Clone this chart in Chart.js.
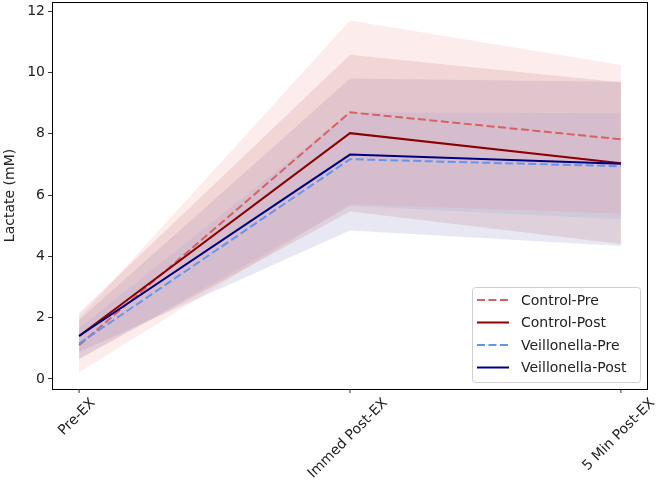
<!DOCTYPE html>
<html>
<head>
<meta charset="utf-8">
<script src="https://cdn.jsdelivr.net/npm/chart.js@4/dist/chart.umd.min.js"></script>
<style>
    body { margin: 0; background: #fff; }
    canvas { display: block; }
</style>
</head>
<body>
<canvas id="lactateChart" width="660" height="490"></canvas>
<script>
// Time points on the x axis
const timepoints = ['Pre-EX', 'Immed Post-EX', '5 Min Post-EX'];

// Group means (mM) and their spread (+/- SD)
const controlPre = [1.10, 8.70, 7.82];
const controlPreSd = [0.88, 3.00, 2.42];
const controlPost = [1.40, 8.02, 7.04];
const controlPostSd = [0.75, 2.56, 2.64];
const veillonellaPre = [1.15, 7.17, 6.94];
const veillonellaPreSd = [0.50, 1.53, 1.73];
const veillonellaPost = [1.40, 7.32, 7.02];
const veillonellaPostSd = [0.52, 2.48, 2.68];

const yTicks = [0, 2, 4, 6, 8, 10, 12];

const FONT = '"DejaVu Sans", sans-serif';

const series = [
    { label: 'Control-Pre', mean: controlPre, sd: controlPreSd, color: '#d9605f', band: 'rgba(240, 128, 128, 0.15)', dashed: true },
    { label: 'Control-Post', mean: controlPost, sd: controlPostSd, color: '#8b0000', band: 'rgba(139, 0, 0, 0.10)', dashed: false },
    { label: 'Veillonella-Pre', mean: veillonellaPre, sd: veillonellaPreSd, color: '#6495ed', band: 'rgba(100, 149, 237, 0.12)', dashed: true },
    { label: 'Veillonella-Post', mean: veillonellaPost, sd: veillonellaPostSd, color: '#000080', band: 'rgba(0, 0, 128, 0.09)', dashed: false }
];

const toPoints = arr => arr.map((v, i) => ({ x: i, y: v }));

const datasets = [];
series.forEach((s, idx) => {
    // mean line, lower order = drawn on top
    datasets.push({
        label: s.label,
        data: toPoints(s.mean),
        borderColor: s.color,
        borderWidth: 2,
        borderDash: s.dashed ? [8, 3.5] : [],
        pointRadius: 0,
        fill: false,
        tension: 0,
        order: 4 - idx
    });
});
series.forEach((s, idx) => {
    datasets.push({
        label: s.label + ' upper',
        data: toPoints(s.mean.map((m, i) => m + s.sd[i])),
        borderWidth: 0,
        pointRadius: 0,
        fill: false,
        order: 20 + idx
    });
    datasets.push({
        label: s.label + ' lower',
        data: toPoints(s.mean.map((m, i) => m - s.sd[i])),
        borderWidth: 0,
        pointRadius: 0,
        backgroundColor: s.band,
        fill: '-1',
        order: 20 + idx
    });
});

// frame, rotated x labels, y title and legend box
const decorations = {
    id: 'decorations',
    afterDraw(chart) {
        const ctx = chart.ctx;
        const area = chart.chartArea;
        const xScale = chart.scales.x;

        ctx.save();
        ctx.strokeStyle = '#000';
        ctx.lineWidth = 1;
        ctx.strokeRect(area.left + 0.5, area.top + 0.5, area.right - area.left - 1, area.bottom - area.top);

        // x tick marks + labels centred under tick (matplotlib style)
        ctx.font = '14px ' + FONT;
        ctx.fillStyle = '#222';
        ctx.textAlign = 'center';
        ctx.textBaseline = 'middle';
        timepoints.forEach((lbl, i) => {
            const x = xScale.getPixelForValue(i);
            ctx.beginPath();
            ctx.moveTo(x, area.bottom);
            ctx.lineTo(x, area.bottom + 4);
            ctx.strokeStyle = '#333';
            ctx.stroke();
            const w = ctx.measureText(lbl).width;
            const boxH = (w + 14) * Math.SQRT1_2;
            ctx.save();
            ctx.translate(x - 2, area.bottom + 7 + boxH / 2);
            ctx.rotate(-Math.PI / 4);
            ctx.fillText(lbl, 0, 0);
            ctx.restore();
        });

        // y axis title
        ctx.save();
        ctx.translate(10, (area.top + area.bottom) / 2);
        ctx.rotate(-Math.PI / 2);
        ctx.fillText('Lactate (mM)', 0, 0);
        ctx.restore();

        // legend
        const lx = 472, ly = 287, lw = 168, lh = 95;
        ctx.beginPath();
        ctx.roundRect(lx + 0.5, ly + 0.5, lw, lh, 3);
        ctx.fillStyle = 'rgba(255,255,255,0.8)';
        ctx.fill();
        ctx.strokeStyle = '#d0d0d0';
        ctx.lineWidth = 1;
        ctx.stroke();
        ctx.textAlign = 'left';
        series.forEach((s, i) => {
            const y = ly + 13 + i * 22.5;
            ctx.beginPath();
            ctx.setLineDash(s.dashed ? [8, 3.5] : []);
            ctx.strokeStyle = s.color;
            ctx.lineWidth = 2;
            ctx.moveTo(lx + 5, y);
            ctx.lineTo(lx + 37, y);
            ctx.stroke();
            ctx.setLineDash([]);
            ctx.fillStyle = '#222';
            ctx.fillText(s.label, lx + 49, y + 1);
        });
        ctx.restore();
    }
};

new Chart(document.getElementById('lactateChart'), {
    type: 'line',
    data: { datasets: datasets },
    options: {
        responsive: false,
        animation: false,
        layout: { padding: { top: 2, right: 12, left: 0, bottom: 0 } },
        plugins: {
            legend: { display: false },
            tooltip: { enabled: false }
        },
        scales: {
            x: {
                type: 'linear',
                min: -0.1,
                max: 2.1,
                afterBuildTicks: axis => { axis.ticks = timepoints.map((t, i) => ({ value: i })); },
                afterFit: axis => {
                    axis.height = 101;
                    axis.paddingLeft = 0;
                    axis.paddingRight = 0;
                },
                ticks: { display: false },
                grid: { display: false },
                border: { display: false }
            },
            y: {
                min: -0.33,
                max: 12.3,
                afterBuildTicks: axis => { axis.ticks = yTicks.map(v => ({ value: v })); },
                afterFit: axis => {
                    axis.width = 52;
                    axis.paddingTop = 0;
                    axis.paddingBottom = 0;
                },
                ticks: {
                    font: { family: FONT, size: 14 },
                    color: '#222',
                    padding: 3
                },
                grid: { drawOnChartArea: false, tickLength: 4, tickColor: '#333' },
                border: { display: false }
            }
        }
    },
    plugins: [decorations]
});
</script>
</body>
</html>
